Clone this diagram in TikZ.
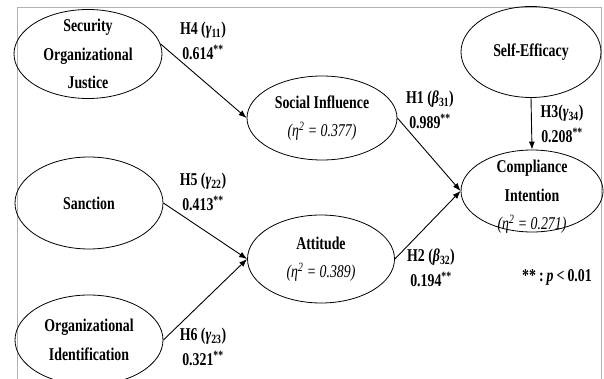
\documentclass[tikz,border=0pt]{standalone}
\usepackage{fontspec}
\setmainfont{Liberation Serif}[FakeStretch=0.77]
\usetikzlibrary{arrows.meta,shapes.geometric}

\tikzset{
  construct/.style={draw, ellipse, line width=0.8pt, inner sep=0pt},
  txt/.style={align=center, inner sep=0pt, font=\fontsize{18}{28.5}\selectfont\bfseries},
  coef/.style={align=center, inner sep=0pt, font=\fontsize{18}{25}\selectfont\bfseries},
  link/.style={line width=0.9pt, -{Latex[length=8pt,width=6pt]}}
}
\newcommand{\rsq}[1]{{\mdseries\itshape (η\textsuperscript{2} = #1)}}

\begin{document}
\begin{tikzpicture}[x=1pt,y=-1pt]
    \useasboundingbox (0,0) rectangle (604,379);
    \draw[gray!60] (17,379) -- (17,7) -- (601,7) -- (601,379);

    % exogenous constructs
    \node[construct, minimum width=148pt, minimum height=89pt] (soj) at (88,54) {};
    \node[construct, minimum width=148pt, minimum height=92pt] (san) at (89,203) {};
    \node[construct, minimum width=148pt, minimum height=90pt] (oid) at (89,340) {};
    \node[construct, minimum width=140pt, minimum height=91pt] (sef) at (531,52) {};
    % endogenous constructs
    \node[construct, minimum width=150pt, minimum height=84pt] (soc) at (322,118) {};
    \node[construct, minimum width=147pt, minimum height=88pt] (att) at (321,259) {};
    \node[construct, minimum width=142pt, minimum height=82pt] (com) at (532,191) {};

    \node[txt] (soj-t) at (soj) {Security\\Organizational\\Justice};
    \node[txt] (san-t) at (san) {Sanction};
    \node[txt] (oid-t) at (oid) {Organizational\\Identification};
    \node[txt] (sef-t) at (sef) {Self-Efficacy};
    \node[txt] (soc-t) at (soc) {Social Influence\\\rsq{0.377}};
    \node[txt] (att-t) at (att) {Attitude\\\rsq{0.389}};
    \node[txt] (com-t) at ([yshift=-6pt]com) {Compliance\\Intention\\\rsq{0.271}};

    \draw[link] (soj.8) -- (soc.west);
    \draw[link] (san.east) -- (att.west);
    \draw[link] (oid.east) -- (att.west);
    \draw[link] (soc.east) -- (com.west);
    \draw[link] (att.east) -- (com.west);
    \draw[link] (sef.south) -- (com.north);

    \node[coef] (h4) at (203,41) {H4 (\textit{γ}\textsubscript{11})\\0.614\textsuperscript{**}};
    \node[coef] (h5) at (203,192) {H5 (\textit{γ}\textsubscript{22})\\0.413\textsuperscript{**}};
    \node[coef] (h6) at (203,347) {H6 (\textit{γ}\textsubscript{23})\\0.321\textsuperscript{**}};
    \node[coef] (h1) at (430,110) {H1 (\textit{β}\textsubscript{31})\\0.989\textsuperscript{**}};
    \node[coef] (h2) at (431,268) {H2 (\textit{β}\textsubscript{32})\\0.194\textsuperscript{**}};
    \node[coef] (h3) at (562,124) {H3(\textit{γ}\textsubscript{34})\\0.208\textsuperscript{**}};
    \node[coef] (sig) at (557,277) {**\,:\,\textit{p}\,<\,0.01};
\end{tikzpicture}
\end{document}
